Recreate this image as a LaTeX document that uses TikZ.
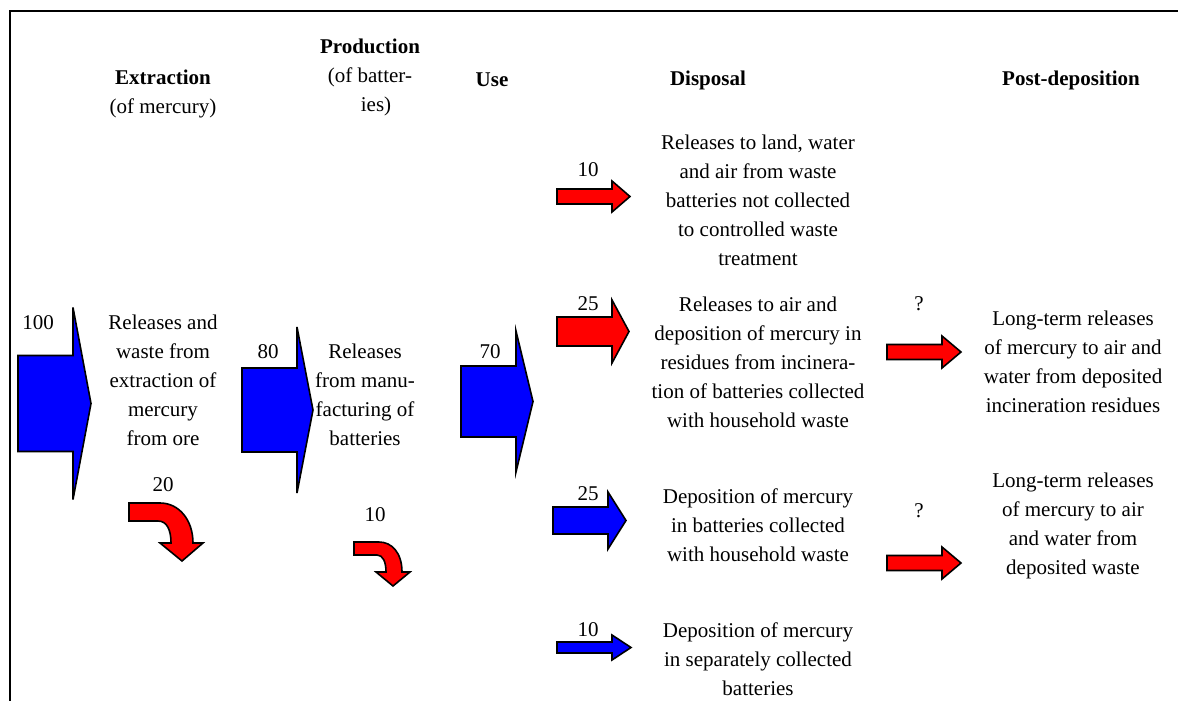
\documentclass[tikz,border=0pt]{standalone}
\usepackage{xcolor}
\usepackage{fontspec}
\setmainfont{Liberation Serif}
\usepackage{tikz}
\tikzset{>=latex}
\definecolor{flowblue}{RGB}{0,0,255}
\definecolor{flowred}{RGB}{255,0,0}
\tikzstyle{txt} = [inner sep=0pt, align=center, font=\fontsize{21}{29}\selectfont]
\tikzstyle{hdr} = [inner sep=0pt, align=center, font=\fontsize{21}{29}\selectfont\bfseries]
\tikzstyle{blueflow} = [fill=flowblue, draw=black, line width=1.6pt]
\tikzstyle{redflow} = [fill=flowred, draw=black, line width=1.6pt]
% block arrow: style, left x, mid y, head x, tip x, shaft half, head half
\newcommand{\flowarrow}[7]{%
  \filldraw[#1] (#2,#3-#6) -- (#4,#3-#6) -- (#4,#3-#7) -- (#5,#3)
    -- (#4,#3+#7) -- (#4,#3+#6) -- (#2,#3+#6) -- cycle;}

\begin{document}
\begin{tikzpicture}[x=1pt, y=-1pt]
\useasboundingbox (0,0) rectangle (1178,701);
\draw [line width=2pt] (1178,11) -- (10,11) -- (10,701);

% headers
\node [hdr] (hExtr) at (163, 94) {Extraction\\\mdseries(of mercury)};
\node [hdr] (hProd) at (370, 77) {Production\\\mdseries(of batter-\\\mdseries\hspace*{12pt}ies)};
\node [hdr] (hUse) at (492, 80) {Use};
\node [hdr] (hDisp) at (708, 80) {Disposal};
\node [hdr] (hPost) at (1071, 80) {Post-deposition};

% flows
\flowarrow{blueflow}{18}{403.5}{73}{91}{48}{96}
\flowarrow{blueflow}{242}{410}{297}{313}{42}{83}
\flowarrow{blueflow}{461}{401.5}{516}{533}{35.5}{70.5}
\flowarrow{redflow}{557}{196.5}{612}{630}{7.5}{15.5}
\flowarrow{redflow}{557}{331.5}{612}{629}{14.5}{31.5}
\flowarrow{blueflow}{553}{520.5}{608}{626}{13.5}{28.5}
\flowarrow{blueflow}{557}{647.5}{612}{631}{5.5}{12.5}
\flowarrow{redflow}{887}{352}{942}{961}{7.5}{16}
\flowarrow{redflow}{887}{563}{942}{961}{7.5}{16}
\filldraw [redflow] (129,503) -- (160,503) .. controls (179,503) and (193,520) .. (193,543)
  -- (203,543) -- (182,561) -- (160,543) -- (171,543)
  .. controls (171,530) and (167,521) .. (158,521) -- (129,521) -- cycle;
\filldraw [redflow] (354,542) -- (379,542) .. controls (392,542) and (402,553) .. (402,572)
  -- (410,572) -- (393,586) -- (376,572) -- (386,572)
  .. controls (386,562) and (383,555) .. (377,555) -- (354,555) -- cycle;

% amounts
\node [txt] (n100) at (38, 323) {100};
\node [txt] (n80) at (268, 352) {80};
\node [txt] (n70) at (490, 352) {70};
\node [txt] (n20) at (163, 485) {20};
\node [txt] (n10p) at (375, 515) {10};
\node [txt] (n10l) at (588, 170) {10};
\node [txt] (n25i) at (588, 304) {25};
\node [txt] (n25h) at (588, 494) {25};
\node [txt] (n10s) at (588, 630) {10};
\node [txt] (q1) at (919, 304) {?};
\node [txt] (q2) at (919, 511) {?};

% texts
\node [txt] (tExtr) at (163, 380) {Releases and\\waste from\\extraction of\\mercury\\from ore};
\node [txt] (tProd) at (365, 394.5) {Releases\\from manu-\\facturing of\\batteries};
\node [txt] (tLand) at (758, 200) {Releases to land, water\\and air from waste\\batteries not collected\\to controlled waste\\treatment};
\node [txt] (tIncin) at (758, 362) {Releases to air and\\deposition of mercury in\\residues from incinera-\\tion of batteries collected\\with household waste};
\node [txt] (tHouse) at (758, 525) {Deposition of mercury\\in batteries collected\\with household waste};
\node [txt] (tSep) at (758, 659) {Deposition of mercury\\in separately collected\\batteries};
\node [txt] (tResid) at (1073, 361.5) {Long-term releases\\of mercury to air and\\water from deposited\\incineration residues};
\node [txt] (tWaste) at (1073, 525.5) {Long-term releases\\of mercury to air\\and water from\\deposited waste};
\end{tikzpicture}
\end{document}
